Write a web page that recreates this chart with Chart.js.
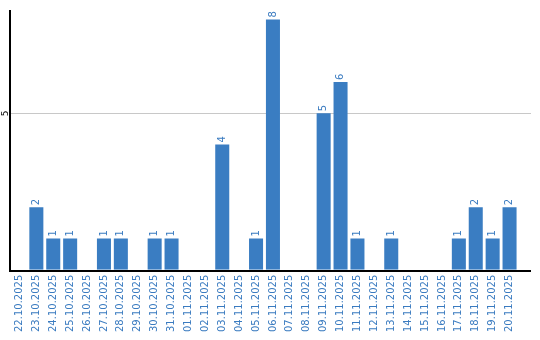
<!DOCTYPE html>
<html>
<head>
<meta charset="utf-8">
<script src="https://cdn.jsdelivr.net/npm/chart.js@4/dist/chart.umd.min.js"></script>
<style>
html,body{margin:0;padding:0;background:#fff;}
#wrap{width:540px;height:340px;position:relative;}
</style>
</head>
<body>
<div id="wrap"><canvas id="c" width="540" height="340"></canvas></div>
<script>
const categories = ["22.10.2025","23.10.2025","24.10.2025","25.10.2025","26.10.2025","27.10.2025","28.10.2025","29.10.2025","30.10.2025","31.10.2025","01.11.2025","02.11.2025","03.11.2025","04.11.2025","05.11.2025","06.11.2025","07.11.2025","08.11.2025","09.11.2025","10.11.2025","11.11.2025","12.11.2025","13.11.2025","14.11.2025","15.11.2025","16.11.2025","17.11.2025","18.11.2025","19.11.2025","20.11.2025"];
const values = [0,2,1,1,0,1,1,0,1,1,0,0,4,0,1,8,0,0,5,6,1,0,1,0,0,0,1,2,1,2];
const yTicks = [5];

const BLUE = "#3a7dc2";
const TEXT_BLUE = "#3a7bc0";

const decor = {
  id: 'decor',
  beforeDatasetsDraw(chart) {
    const {ctx, chartArea, scales} = chart;
    const y = scales.y;
    const rightEnd = 531;
    ctx.save();
    ctx.strokeStyle = '#c8c8c8';
    ctx.lineWidth = 1;
    yTicks.forEach(t => {
      const py = Math.round(y.getPixelForValue(t)) + 0.5;
      ctx.beginPath(); ctx.moveTo(chartArea.left, py); ctx.lineTo(rightEnd, py); ctx.stroke();
      ctx.save();
      ctx.translate(5.5, py);
      ctx.rotate(-Math.PI/2);
      ctx.fillStyle = '#000';
      ctx.font = '9px "DejaVu Sans"';
      ctx.textAlign = 'center';
      ctx.textBaseline = 'middle';
      ctx.fillText(String(t), 0, 0);
      ctx.restore();
    });
    ctx.restore();
  },
  afterDatasetsDraw(chart) {
    const {ctx, chartArea, scales} = chart;
    const y = scales.y;
    const rightEnd = 531;
    ctx.save();
    ctx.strokeStyle = '#000';
    ctx.lineWidth = 2;
    const by = Math.round(y.getPixelForValue(0)) + 1;
    ctx.beginPath(); ctx.moveTo(chartArea.left - 1, chartArea.top); ctx.lineTo(chartArea.left - 1, by); ctx.lineTo(rightEnd, by); ctx.stroke();
    const meta = chart.getDatasetMeta(0);
    ctx.fillStyle = TEXT_BLUE;
    ctx.font = '10px "DejaVu Sans"';
    ctx.textAlign = 'left';
    ctx.textBaseline = 'middle';
    meta.data.forEach((bar, i) => {
      const v = values[i];
      if (!v) return;
      ctx.save();
      ctx.translate(bar.x, bar.y - 2);
      ctx.rotate(-Math.PI/2);
      ctx.fillText(String(v), 0, 0);
      ctx.restore();
    });
    ctx.restore();
  }
};

new Chart(document.getElementById('c'), {
  type: 'bar',
  data: {
    labels: categories,
    datasets: [{
      data: values,
      backgroundColor: BLUE,
      borderWidth: 0,
      barPercentage: 0.83,
      categoryPercentage: 1.0
    }]
  },
  options: {
    responsive: false,
    animation: false,
    devicePixelRatio: 1,
    layout: { padding: { left: 11, right: 22, top: 10, bottom: 3 } },
    plugins: { legend: { display: false }, tooltip: { enabled: false } },
    scales: {
      x: {
        grid: { display: false, drawTicks: false },
        border: { display: false },
        ticks: {
          color: TEXT_BLUE,
          font: { family: 'DejaVu Sans', size: 10 },
          minRotation: 90, maxRotation: 90,
          autoSkip: false,
          padding: 5
        }
      },
      y: {
        display: false,
        min: 0,
        max: 8.3
      }
    }
  },
  plugins: [decor]
});
</script>
</body>
</html>
